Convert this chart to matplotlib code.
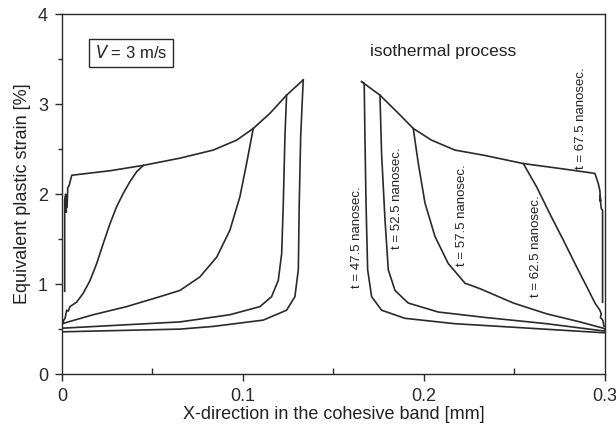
import matplotlib.pyplot as plt
from matplotlib.ticker import MultipleLocator

plt.rcParams['font.family'] = ['Liberation Sans', 'DejaVu Sans']

# plastic strain profiles across the cohesive band (x in mm, strain in %)
# t = 67.5 ns is the outer envelope; earlier times branch off it
env_left_x = [0.0015, 0.0015, 0.0020, 0.0024, 0.0020, 0.0028, 0.0032, 0.0040, 0.0054,
              0.0265, 0.045, 0.0652, 0.0836, 0.0965, 0.1057, 0.115, 0.1241, 0.1333]
env_left_y = [0.92, 1.93, 1.98, 1.80, 2.00, 1.85, 2.07, 2.10, 2.21,
              2.26, 2.32, 2.40, 2.49, 2.60, 2.73, 2.90, 3.10, 3.27]
env_right_x = [0.1656, 0.1757, 0.1858, 0.1941, 0.2042, 0.2171, 0.2337, 0.2549, 0.2807,
               0.2945, 0.2963, 0.2972, 0.2976, 0.2972, 0.2980, 0.2987, 0.2987]
env_right_y = [3.25, 3.10, 2.90, 2.73, 2.60, 2.49, 2.43, 2.34, 2.27,
               2.23, 2.12, 2.04, 1.92, 1.98, 1.84, 1.82, 0.80]

# t = 62.5 ns
t62_left_x = [0.0, 0.0010, 0.0017, 0.0026, 0.0035, 0.0044, 0.0081, 0.0118, 0.0155, 0.0192,
              0.0228, 0.0265, 0.0302, 0.0339, 0.0376, 0.0413, 0.045]
t62_left_y = [0.54, 0.60, 0.62, 0.71, 0.70, 0.75, 0.80, 0.90, 1.04, 1.23,
              1.45, 1.67, 1.86, 2.01, 2.14, 2.25, 2.32]
t62_right_x = [0.2549, 0.2623, 0.2696, 0.277, 0.2844, 0.290, 0.2945, 0.2972, 0.2980,
               0.2975, 0.2988, 0.2995]
t62_right_y = [2.34, 2.08, 1.78, 1.49, 1.19, 0.97, 0.79, 0.71, 0.67,
               0.63, 0.60, 0.53]

# t = 57.5 ns
t57_left_x = [0.0, 0.0173, 0.0357, 0.054, 0.0652, 0.0762, 0.0855, 0.0928, 0.0983,
              0.102, 0.1057]
t57_left_y = [0.56, 0.66, 0.75, 0.86, 0.93, 1.08, 1.30, 1.60, 1.97,
              2.34, 2.73]
t57_right_x = [0.1941, 0.1969, 0.2006, 0.2061, 0.2134, 0.2227, 0.2309, 0.2494, 0.2678,
               0.2862, 0.2991, 0.3]
t57_right_y = [2.73, 2.34, 1.90, 1.53, 1.23, 1.01, 0.95, 0.79, 0.67,
               0.58, 0.51, 0.50]

# t = 52.5 ns
t52_left_x = [0.0, 0.0652, 0.0928, 0.1094, 0.1158, 0.1195, 0.1214, 0.1223, 0.1232, 0.1241]
t52_left_y = [0.51, 0.58, 0.66, 0.75, 0.86, 1.04, 1.34, 1.90, 2.64, 3.10]
t52_right_x = [0.1757, 0.1766, 0.1785, 0.1803, 0.184, 0.1913, 0.2079, 0.2337, 0.2678,
               0.2991, 0.3]
t52_right_y = [3.10, 2.45, 1.71, 1.16, 0.93, 0.79, 0.69, 0.63, 0.56,
               0.48, 0.48]

# t = 47.5 ns
t47_left_x = [0.0, 0.0652, 0.0836, 0.1112, 0.1241, 0.1287, 0.1306, 0.1311, 0.1319, 0.1333]
t47_left_y = [0.47, 0.50, 0.53, 0.60, 0.71, 0.86, 1.16, 1.90, 2.64, 3.27]
t47_right_x = [0.1656, 0.1670, 0.1674, 0.1680, 0.1689, 0.1711, 0.1766, 0.1895, 0.2171,
               0.2337, 0.2991, 0.3]
t47_right_y = [3.25, 3.23, 2.64, 1.90, 1.16, 0.86, 0.71, 0.62, 0.56,
               0.54, 0.46, 0.46]

curve_labels = ['t = 47.5 nanosec.', 't = 52.5 nanosec.', 't = 57.5 nanosec.',
                't = 62.5 nanosec.', 't = 67.5 nanosec.']
label_x = [0.163, 0.185, 0.221, 0.262, 0.287]
label_y = [1.52, 1.96, 1.77, 1.42, 2.84]

line_kw = dict(color='#2a2a2a', lw=1.2, solid_joinstyle='round')

fig = plt.figure(figsize=(6.16, 4.30), dpi=100)
ax = fig.add_axes([0.1006, 0.130, 0.8814, 0.837])

ax.plot(env_left_x, env_left_y, **line_kw)
ax.plot(env_right_x, env_right_y, **line_kw)
for xs, ys in [(t62_left_x, t62_left_y), (t62_right_x, t62_right_y),
               (t57_left_x, t57_left_y), (t57_right_x, t57_right_y),
               (t52_left_x, t52_left_y), (t52_right_x, t52_right_y),
               (t47_left_x, t47_left_y), (t47_right_x, t47_right_y)]:
    ax.plot(xs, ys, **line_kw)

for lab, lx, ly in zip(curve_labels, label_x, label_y):
    ax.text(lx, ly, lab, rotation=90, ha='center', va='center', fontsize=9.5, color='#222222')

ax.text(0.170, 3.58, 'isothermal process', ha='left', va='center', fontsize=12.5, color='#222222')
ax.text(0.038, 3.57, '$V$ = 3 m/s', ha='center', va='center', fontsize=12, color='#222222',
        bbox=dict(boxstyle='square,pad=0.35', fc='white', ec='#2a2a2a', lw=1.0))

ax.set_xlim(0, 0.3)
ax.set_ylim(0, 4)
ax.set_xticks([0, 0.1, 0.2, 0.3])
ax.set_xticklabels(['0', '0.1', '0.2', '0.3'])
ax.set_yticks([0, 1, 2, 3, 4])
ax.xaxis.set_minor_locator(MultipleLocator(0.05))
ax.yaxis.set_minor_locator(MultipleLocator(0.5))
ax.tick_params(axis='both', which='major', direction='out', length=5, width=1,
               labelsize=13, colors='#2a2a2a', pad=5)
ax.tick_params(axis='x', which='minor', direction='in', length=4, width=1, colors='#2a2a2a')
ax.tick_params(axis='y', which='minor', direction='out', length=3, width=1, colors='#2a2a2a')
for sp in ax.spines.values():
    sp.set_color('#2a2a2a')
    sp.set_linewidth(1.0)

ax.set_xlabel('X-direction in the cohesive band [mm]', fontsize=13, color='#222222', labelpad=1)
ax.set_ylabel('Equivalent plastic strain [%]', fontsize=13, color='#222222', labelpad=5)

fig.savefig('out.png', dpi=100)
